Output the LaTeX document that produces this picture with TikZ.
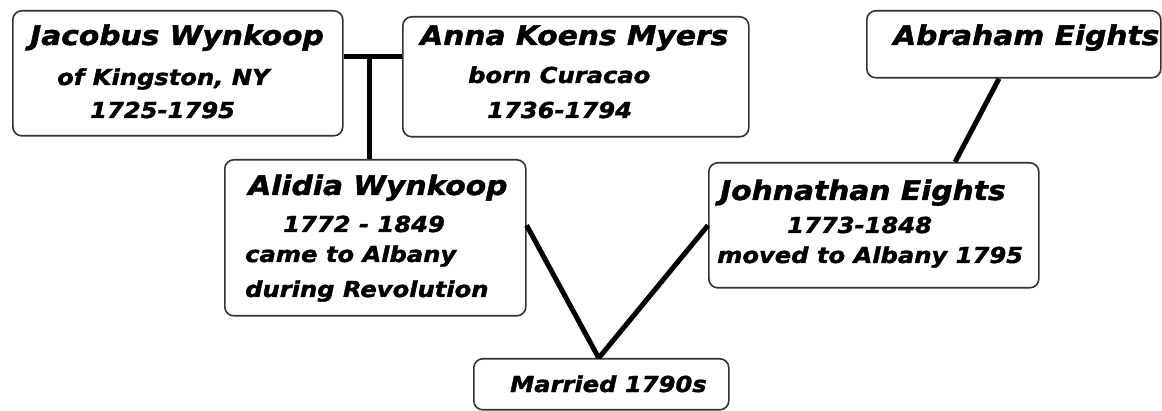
\documentclass[tikz,border=0pt]{standalone}
\usepackage{fontspec}
\setmainfont{DejaVu Sans}
\newfontfamily\heavyfont{DejaVu Sans}[FakeStretch=1.1, BoldItalicFeatures={FakeBold=1.7}]
\usetikzlibrary{calc}
\begin{document}
\begin{tikzpicture}[x=1pt,y=-1pt,
  box/.style={draw=black!80, line width=1.6pt, rounded corners=9pt, anchor=north west, inner sep=0pt, fill=white},
  big/.style={anchor=base west, inner sep=0pt, font=\heavyfont\fontsize{27}{27}\selectfont\bfseries\itshape},
  small/.style={anchor=base west, inner sep=0pt, font=\heavyfont\fontsize{22}{22}\selectfont\bfseries\itshape},
  link/.style={line width=5pt}]
\useasboundingbox (0,0) rectangle (1162,411);
% boxes
\node[box, minimum width=330pt, minimum height=125pt] (jac) at (12,10) {};
\node[box, minimum width=346pt, minimum height=120pt] (ann) at (402,16) {};
\node[box, minimum width=294pt, minimum height=67pt] (abr) at (866,10) {};
\node[box, minimum width=301pt, minimum height=156pt] (ali) at (224,159) {};
\node[box, minimum width=330pt, minimum height=125pt] (joh) at (708,162) {};
\node[box, minimum width=255pt, minimum height=51pt] (mar) at (473,358) {};
% texts
\node[big] (jac1) at (30,45) {Jacobus Wynkoop};
\node[small] (jac2) at (57,85) {of Kingston, NY};
\node[small] (jac3) at (90,118) {1725-1795};
\node[big] (ann1) at (420,45) {Anna Koens Myers};
\node[small] (ann2) at (468,83) {born Curacao};
\node[small] (ann3) at (487,118) {1736-1794};
\node[big] (abr1) at (893,45) {Abraham Eights};
\node[big] (ali1) at (248,195) {Alidia Wynkoop};
\node[small] (ali2) at (283,232) {1772 - 1849};
\node[small] (ali3) at (245,262) {came to Albany};
\node[small] (ali4) at (245,297) {during Revolution};
\node[big] (joh1) at (720,200) {Johnathan Eights};
\node[small] (joh2) at (787,233) {1773-1848};
\node[small] (joh3) at (717,263) {moved to Albany 1795};
\node[small] (mar1) at (510,392) {Married 1790s};
% connectors
\coordinate (cpl) at (369,57);
\draw[link] (jac.east |- cpl) -- (ann.west |- cpl);
\draw[link] (cpl) -- (cpl |- ali.north);
\draw[link] ($(abr.south west)!0.45!(abr.south east)$) -- ($(joh.north west)!0.745!(joh.north east)$);
\draw[link] (ali.east |- joh.west) -- ($(mar.north west)!0.49!(mar.north east)$);
\draw[link] (joh.west) -- ($(mar.north west)!0.49!(mar.north east)$);
\end{tikzpicture}
\end{document}
